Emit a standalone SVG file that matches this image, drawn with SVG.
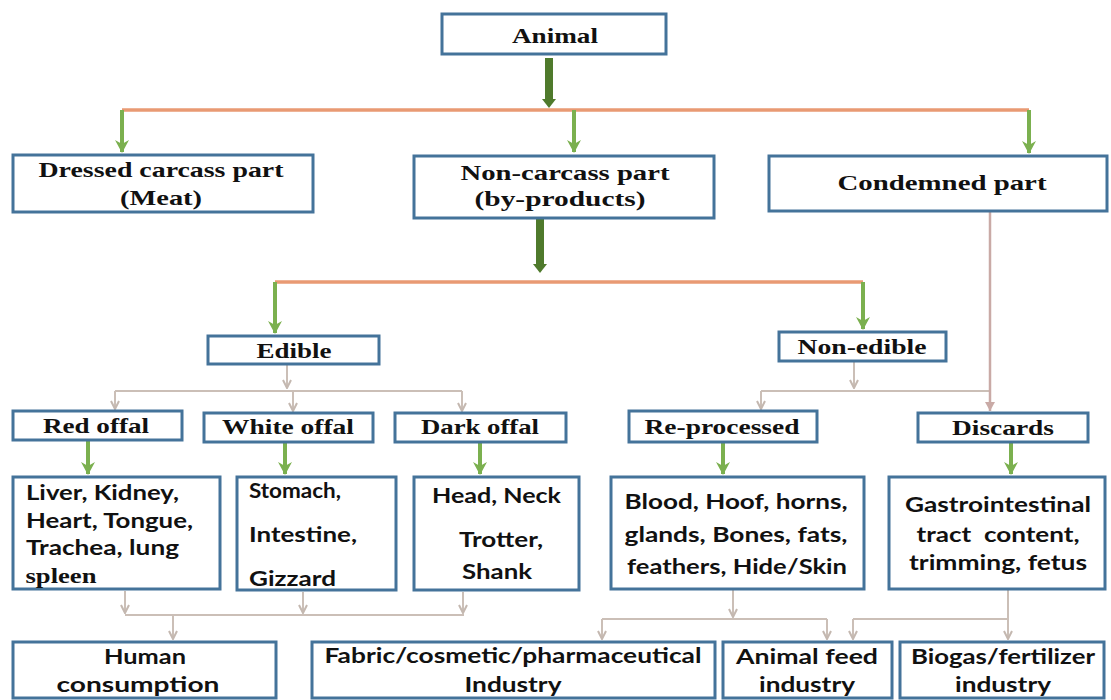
<svg xmlns="http://www.w3.org/2000/svg" width="1111" height="700" viewBox="0 0 1111 700">
<style>
.box{fill:#ffffff;stroke:#44739a;stroke-width:3}
.serif{font-family:"Liberation Serif","Times New Roman",serif;font-weight:bold;font-size:21px;fill:#111;text-anchor:middle}
.sans{font-family:Lato,"Liberation Sans",sans-serif;font-weight:bold;font-size:21px;fill:#111}
.mid{text-anchor:middle}
.g{stroke:#7bb04f;stroke-width:4;fill:none}
.dg{stroke:#4f7a2c;stroke-width:8;fill:none}
.or{stroke:#e99a73;stroke-width:3.5;fill:none}
.gr{stroke:#cbbfb7;stroke-width:2;fill:none}
.pk{stroke:#c9aaa6;stroke-width:2.5;fill:none}
</style>
<defs>
<marker id="adg" markerUnits="userSpaceOnUse" markerWidth="10" markerHeight="16" refX="0" refY="8" orient="auto" viewBox="0 0 10 16"><path d="M0,1 L9,8 L0,15 Z" fill="#4f7a2c"/></marker>
<marker id="agr" markerUnits="userSpaceOnUse" markerWidth="10" markerHeight="10" refX="9" refY="5" orient="auto" viewBox="0 0 10 10"><path d="M1,1 L9,5 L1,9" fill="none" stroke="#c4b8b0" stroke-width="2"/></marker>
<marker id="apk" markerUnits="userSpaceOnUse" markerWidth="12" markerHeight="12" refX="10" refY="6" orient="auto" viewBox="0 0 12 12"><path d="M1,1 L10,6 L1,11 Z" fill="#c9aaa6"/></marker>
<marker id="agn" markerUnits="userSpaceOnUse" markerWidth="16" markerHeight="16" refX="13" refY="8" orient="auto" viewBox="0 0 16 16"><path d="M1,1 L14,8 L1,15 L5,8 Z" fill="#7bb04f"/></marker>
</defs>
<rect width="1111" height="700" fill="#ffffff"/>
<g id="connectors">
<path class="dg" d="M549,58 V99" marker-end="url(#adg)"/>
<path class="or" d="M122,110 H1029"/>
<path class="g" d="M122,110 V152" marker-end="url(#agn)"/>
<path class="g" d="M574,110 V152" marker-end="url(#agn)"/>
<path class="g" d="M1029,110 V153" marker-end="url(#agn)"/>
<path class="dg" d="M540,219 V264" marker-end="url(#adg)"/>
<path class="or" d="M275,282 H863"/>
<path class="g" d="M275,282 V333" marker-end="url(#agn)"/>
<path class="g" d="M863,282 V329" marker-end="url(#agn)"/>
<path class="gr" d="M287,365 V388" marker-end="url(#agr)"/>
<path class="gr" d="M115,391 H462"/>
<path class="gr" d="M115,391 V409" marker-end="url(#agr)"/>
<path class="gr" d="M293,391 V411" marker-end="url(#agr)"/>
<path class="gr" d="M462,391 V411" marker-end="url(#agr)"/>
<path class="gr" d="M854,362 V388" marker-end="url(#agr)"/>
<path class="gr" d="M761,391 H990"/>
<path class="gr" d="M761,391 V409" marker-end="url(#agr)"/>
<path class="pk" d="M990,211 V411" marker-end="url(#apk)"/>
<path class="g" d="M88,441 V474" marker-end="url(#agn)"/>
<path class="g" d="M285,443 V474" marker-end="url(#agn)"/>
<path class="g" d="M480,443 V474" marker-end="url(#agn)"/>
<path class="g" d="M723,443 V474" marker-end="url(#agn)"/>
<path class="g" d="M1011,443 V474" marker-end="url(#agn)"/>
<path class="gr" d="M125,591 V613" marker-end="url(#agr)"/>
<path class="gr" d="M303,592 V613" marker-end="url(#agr)"/>
<path class="gr" d="M463,592 V613" marker-end="url(#agr)"/>
<path class="gr" d="M125,615 H464"/>
<path class="gr" d="M173,615 V639" marker-end="url(#agr)"/>
<path class="gr" d="M733,590 V617" marker-end="url(#agr)"/>
<path class="gr" d="M602,619 H827"/>
<path class="gr" d="M602,619 V639" marker-end="url(#agr)"/>
<path class="gr" d="M827,619 V639" marker-end="url(#agr)"/>
<path class="gr" d="M1008,589 V639" marker-end="url(#agr)"/>
<path class="gr" d="M853,619 H1008"/>
<path class="gr" d="M853,619 V639" marker-end="url(#agr)"/>
</g>
<g id="animal"><rect class="box" x="442" y="14" width="224" height="40"/><text class="serif" x="555" y="43" textLength="86" lengthAdjust="spacingAndGlyphs">Animal</text></g>
<g id="dressed"><rect class="box" x="13" y="155" width="300" height="57"/><text class="serif" x="161" y="177" textLength="245" lengthAdjust="spacingAndGlyphs">Dressed carcass part</text><text class="serif" x="161" y="205" textLength="82" lengthAdjust="spacingAndGlyphs">(Meat)</text></g>
<g id="noncarcass"><rect class="box" x="414" y="156" width="300" height="62"/><text class="serif" x="565" y="180" textLength="209" lengthAdjust="spacingAndGlyphs">Non-carcass part</text><text class="serif" x="560" y="206" textLength="171" lengthAdjust="spacingAndGlyphs">(by-products)</text></g>
<g id="condemned"><rect class="box" x="769" y="156" width="338" height="55"/><text class="serif" x="942" y="190" textLength="209" lengthAdjust="spacingAndGlyphs">Condemned part</text></g>
<g id="edible"><rect class="box" x="208" y="336" width="171" height="28"/><text class="serif" x="294" y="358" textLength="75" lengthAdjust="spacingAndGlyphs">Edible</text></g>
<g id="nonedible"><rect class="box" x="779" y="332" width="167" height="29"/><text class="serif" x="862" y="354" textLength="129" lengthAdjust="spacingAndGlyphs">Non-edible</text></g>
<g id="redoffal"><rect class="box" x="13" y="411" width="169" height="29"/><text class="serif" x="96" y="433" textLength="106" lengthAdjust="spacingAndGlyphs">Red offal</text></g>
<g id="whiteoffal"><rect class="box" x="204" y="413" width="169" height="29"/><text class="serif" x="288" y="434" textLength="132" lengthAdjust="spacingAndGlyphs">White offal</text></g>
<g id="darkoffal"><rect class="box" x="395" y="413" width="171" height="29"/><text class="serif" x="480" y="434" textLength="118" lengthAdjust="spacingAndGlyphs">Dark offal</text></g>
<g id="reprocessed"><rect class="box" x="629" y="411" width="188" height="31"/><text class="serif" x="722" y="434" textLength="155" lengthAdjust="spacingAndGlyphs">Re-processed</text></g>
<g id="discards"><rect class="box" x="918" y="413" width="170" height="29"/><text class="serif" x="1003" y="435" textLength="102" lengthAdjust="spacingAndGlyphs">Discards</text></g>
<g id="red-items"><rect class="box" x="13" y="477" width="207" height="112"/>
<text class="sans" x="26" y="500" textLength="153" lengthAdjust="spacingAndGlyphs">Liver, Kidney,</text>
<text class="sans" x="26" y="528" textLength="167" lengthAdjust="spacingAndGlyphs">Heart, Tongue,</text>
<text class="sans" x="26" y="555" textLength="153" lengthAdjust="spacingAndGlyphs">Trachea, lung</text>
<text class="serif" x="61" y="583" textLength="71" lengthAdjust="spacingAndGlyphs">spleen</text></g>
<g id="white-items"><rect class="box" x="237" y="477" width="159" height="113"/>
<text class="sans" x="249" y="498" font-size="23" textLength="92" lengthAdjust="spacingAndGlyphs">Stomach,</text>
<text class="sans" x="249" y="542" textLength="108" lengthAdjust="spacingAndGlyphs">Intestine,</text>
<text class="sans" x="249" y="586" textLength="87" lengthAdjust="spacingAndGlyphs">Gizzard</text></g>
<g id="dark-items"><rect class="box" x="414" y="477" width="165" height="113"/>
<text class="sans" x="432" y="503" textLength="129" lengthAdjust="spacingAndGlyphs">Head, Neck</text>
<text class="sans" x="459" y="547" textLength="84" lengthAdjust="spacingAndGlyphs">Trotter,</text>
<text class="sans" x="462" y="579" textLength="70" lengthAdjust="spacingAndGlyphs">Shank</text></g>
<g id="reprocessed-items"><rect class="box" x="611" y="477" width="253" height="112"/>
<text class="sans mid" x="736" y="509" textLength="223" lengthAdjust="spacingAndGlyphs">Blood, Hoof, horns,</text>
<text class="sans mid" x="736" y="542" textLength="223" lengthAdjust="spacingAndGlyphs">glands, Bones, fats,</text>
<text class="sans mid" x="737" y="574" textLength="220" lengthAdjust="spacingAndGlyphs">feathers, Hide/Skin</text></g>
<g id="discard-items"><rect class="box" x="889" y="477" width="216" height="112"/>
<text class="sans mid" x="998" y="512" textLength="186" lengthAdjust="spacingAndGlyphs">Gastrointestinal</text>
<text class="sans mid" x="998" y="542" textLength="163" lengthAdjust="spacingAndGlyphs" xml:space="preserve">tract  content,</text>
<text class="sans mid" x="998" y="570" textLength="178" lengthAdjust="spacingAndGlyphs">trimming, fetus</text></g>
<g id="human"><rect class="box" x="13" y="642" width="263" height="56"/>
<text class="sans mid" x="145" y="664" textLength="82" lengthAdjust="spacingAndGlyphs">Human</text>
<text class="sans mid" x="138" y="692" textLength="163" lengthAdjust="spacingAndGlyphs">consumption</text></g>
<g id="fabric"><rect class="box" x="312" y="642" width="403" height="56"/>
<text class="sans mid" x="513" y="663" textLength="377" lengthAdjust="spacingAndGlyphs">Fabric/cosmetic/pharmaceutical</text>
<text class="sans mid" x="513" y="692" textLength="97" lengthAdjust="spacingAndGlyphs">Industry</text></g>
<g id="feed"><rect class="box" x="723" y="642" width="169" height="56"/>
<text class="sans mid" x="807" y="664" textLength="142" lengthAdjust="spacingAndGlyphs">Animal feed</text>
<text class="sans mid" x="807" y="692" textLength="96" lengthAdjust="spacingAndGlyphs">industry</text></g>
<g id="biogas"><rect class="box" x="900" y="642" width="204" height="56"/>
<text class="sans mid" x="1003" y="664" textLength="184" lengthAdjust="spacingAndGlyphs">Biogas/fertilizer</text>
<text class="sans mid" x="1003" y="692" textLength="96" lengthAdjust="spacingAndGlyphs">industry</text></g>
</svg>
